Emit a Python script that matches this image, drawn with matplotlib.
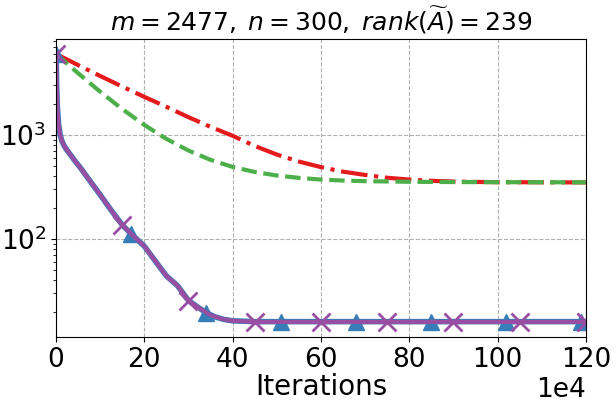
import numpy as np
import matplotlib
matplotlib.use('Agg')
import matplotlib.pyplot as plt

# iterations are in units of 1e4 here, scaled when plotting
red_x = [0, 5, 10, 15, 20, 25, 30, 35, 40, 45, 50, 55, 60, 65, 70, 75, 80, 85, 90, 95, 100, 110, 120]
red_y = [6000, 4690, 3685, 2913, 2320, 1862, 1480, 1195, 980, 783, 647, 554, 490, 443, 412, 387,
         372, 362, 356, 353, 351, 350, 349]

green_x = [0, 5, 10, 15, 20, 25, 30, 35, 40, 45, 50, 55, 60, 65, 70, 80, 90, 100, 120]
green_y = [6000, 3915, 2600, 1770, 1246, 915, 707, 575, 492, 440, 407, 386, 372, 364, 359,
           354, 352, 351, 350]

blue_x = [0, 0.15, 0.3, 0.6, 0.9, 1.3, 1.8, 2.4, 3.3, 4.3, 5.4, 7.3, 10, 12.5, 15, 17, 20, 22.5,
          25, 27.5, 30, 32.5, 34, 36, 38, 40, 45, 51, 60, 68, 80, 85, 100, 102, 119, 120]
blue_y = [6000, 2900, 1860, 1250, 1020, 880, 790, 720, 640, 560, 490, 380, 265, 188, 136, 112, 85,
          61, 44, 35.5, 25.5, 21.5, 19.5, 17.8, 16.8, 16.3, 16.0, 16.0, 16.0, 16.0, 16.0, 16.0,
          16.0, 16.0, 16.0, 16.0]
blue_marks = [0, 17, 34, 51, 68, 85, 102, 119]

purple_x = [0, 0.15, 0.3, 0.6, 0.9, 1.3, 1.8, 2.4, 3.3, 4.3, 5.4, 7.3, 10, 12.5, 15, 17.5, 20,
            22.5, 25, 27.5, 30, 32.5, 35, 37.5, 40, 45, 60, 75, 90, 105, 120]
purple_y = [6000, 2900, 1860, 1250, 1020, 880, 790, 720, 640, 560, 490, 380, 265, 188, 136, 107,
            85, 61, 44, 35.5, 25.5, 21.5, 18.5, 17, 16.3, 15.9, 15.9, 15.9, 15.9, 15.9, 15.9]
purple_marks = [0, 15, 30, 45, 60, 75, 90, 105, 120]

title = r'$m = 2477,\;n = 300,\;rank(\widetilde{A}) = 239$'

fig = plt.figure(figsize=(6.16, 4.05), dpi=100)
ax = fig.add_axes([0.091, 0.168, 0.86, 0.736])

scale = 1e4
ax.plot(np.array(red_x) * scale, red_y, color='#e41a1c', linestyle='-.', linewidth=3)
ax.plot(np.array(green_x) * scale, green_y, color='#4daf4a', linestyle='--', linewidth=3)
ax.plot(np.array(blue_x) * scale, blue_y, color='#377eb8', linewidth=4, marker='^',
        markersize=12, markevery=[blue_x.index(m) for m in blue_marks])
ax.plot(np.array(purple_x) * scale, purple_y, color='#984ea3', linewidth=3, marker='x',
        markersize=13, markeredgewidth=2, markevery=[purple_x.index(m) for m in purple_marks])

ax.set_yscale('log')
ax.set_xlim(0, 1.2e6)
ax.set_ylim(11.4, 8380)
ax.set_xticks(np.arange(0, 1.21e6, 2e5))
ax.ticklabel_format(axis='x', style='sci', scilimits=(4, 4))
ax.xaxis.get_offset_text().set_fontsize(19)
ax.tick_params(labelsize=19)
ax.grid(True, which='major', linestyle='--', color='#b0b0b0', linewidth=0.8)
ax.set_xlabel('Iterations', fontsize=20, labelpad=0)
ax.set_title(title, fontsize=18)

fig.savefig('out.png', dpi=100)
